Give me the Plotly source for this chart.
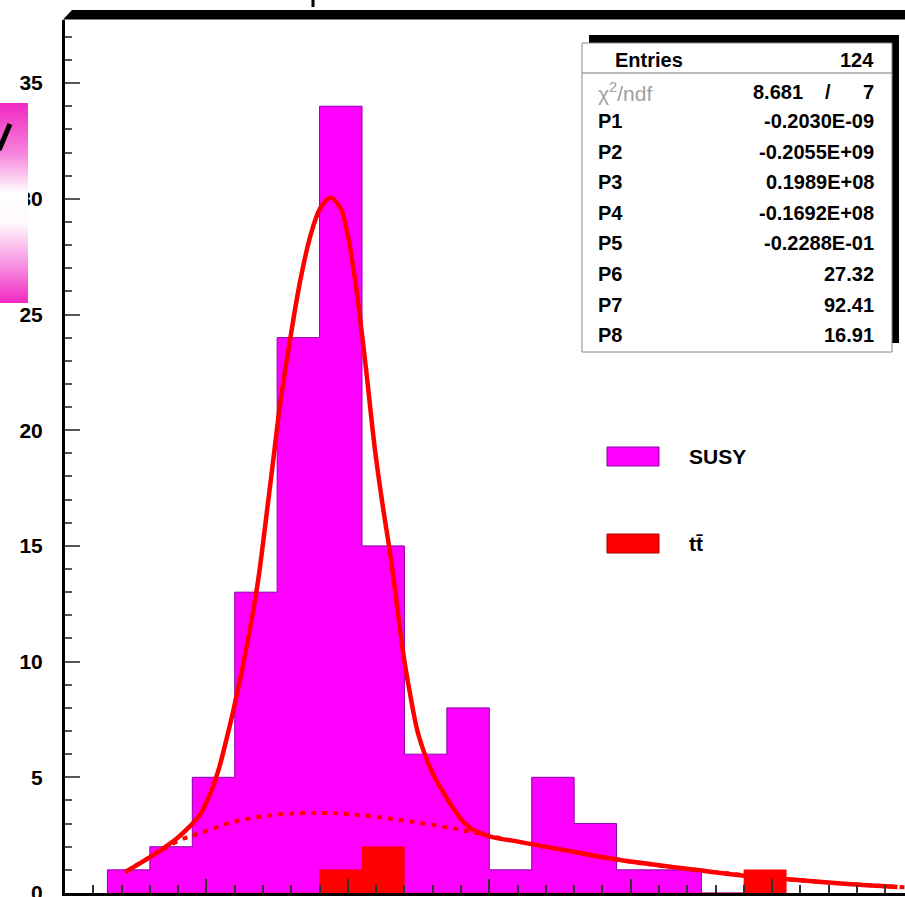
import base64
import plotly.graph_objects as go

# ---------------- data ----------------
bin_edges = [15, 30, 45, 60, 75, 90, 105, 120, 135, 150, 165, 180, 195, 210, 225, 240, 255]
susy_counts = [1, 2, 5, 13, 24, 34, 15, 6, 8, 1, 5, 3, 1, 1, 0, 0]
ttbar_counts = [0, 0, 0, 0, 0, 1, 2, 0, 0, 0, 0, 0, 0, 0, 0, 1]

fit_x = [21.35, 30.19, 35.0, 39.73, 44.33, 47.5, 50.34, 54.23, 57.0, 59.53, 63.5, 68.02,
         70.7, 73.32, 76.15, 79.69, 83.22, 86.76, 90.29, 93.83, 97.36, 99.84, 102.67,
         105.14, 106.91, 109.74, 112.5, 115.04, 117.5, 119.64, 122.0, 124.59, 127.5,
         130.25, 133.5, 137.31, 141.0, 144.38, 150.0, 161.0, 179.8, 193.88, 223.58,
         241.26, 258.94, 276.61, 294.29]
fit_y = [0.91, 1.56, 1.95, 2.38, 2.9, 3.35, 4.0, 5.3, 6.6, 7.9, 10.2, 13.3,
         15.8, 18.4, 21.2, 24.0, 26.5, 28.4, 29.6, 30.05, 29.6, 28.5, 26.4,
         24.0, 22.1, 19.0, 16.6, 14.6, 12.3, 10.3, 8.6, 7.0, 5.9,
         5.1, 4.4, 3.65, 3.05, 2.72, 2.45, 2.20, 1.78, 1.47, 0.99,
         0.73, 0.56, 0.39, 0.26]

bg_x = [21.35, 30.19, 40.80, 47.87, 59.53, 73.67, 86.76, 100.9, 118.58, 136.25,
        144.38, 161.0, 193.88, 223.58, 258.94, 294.29, 300.0]
bg_y = [0.91, 1.56, 2.29, 2.59, 3.07, 3.37, 3.46, 3.41, 3.15, 2.81,
        2.62, 2.20, 1.47, 0.99, 0.56, 0.26, 0.24]

stat_entries = "124"
stat_chi2 = "8.681"
stat_ndf = "7"
param_names = ["P1", "P2", "P3", "P4", "P5", "P6", "P7", "P8"]
param_values = ["-0.2030E-09", "-0.2055E+09", "0.1989E+08", "-0.1692E+08",
                "-0.2288E-01", "27.32", "92.41", "16.91"]
legend_labels = ["SUSY", "tt\u0304"]

# ---------------- geometry helpers (pixel -> paper) ----------------
FW, FH = 905, 897
L, T, R, B = 65, 20, 0, 4
PW, PH = FW - L - R, FH - T - B


def px(xp):
    return (xp - L) / PW


def py(yp):
    return (T + PH - yp) / PH


MAGENTA = "#FF00FF"
RED = "#FF0000"
FONT = "Liberation Sans, Arial, sans-serif"


def steps(edges, counts):
    xs = [edges[0]] + edges[:-1] + [edges[-1]]
    ys = [0] + list(counts) + [0]
    return xs, ys


fig = go.Figure()
sx, sy = steps(bin_edges, susy_counts)
fig.add_trace(go.Scatter(x=sx, y=sy, mode="lines", line_shape="hv", fill="tozeroy",
                         fillcolor=MAGENTA,
                         line=dict(color="rgb(140,0,170)", width=1),
                         showlegend=False, hoverinfo="skip"))
tx, ty = steps(bin_edges, ttbar_counts)
fig.add_trace(go.Scatter(x=tx, y=ty, mode="lines", line_shape="hv", fill="tozeroy",
                         fillcolor=RED, line=dict(color=RED, width=0.5),
                         showlegend=False, hoverinfo="skip"))
fig.add_trace(go.Scatter(x=bg_x, y=bg_y, mode="lines", line_shape="spline",
                         line=dict(color=RED, width=4, dash="5px,6px"),
                         showlegend=False, hoverinfo="skip"))
fig.add_trace(go.Scatter(x=fit_x, y=fit_y, mode="lines", line_shape="spline",
                         line=dict(color=RED, width=4.5),
                         showlegend=False, hoverinfo="skip"))

shapes = []
annotations = []

# top black frame bar with slanted corner
shapes.append(dict(type="path", xref="paper", yref="paper", layer="above",
                   path=f"M {px(63)},{py(19.5)} L {px(72)},{py(10)} L {px(906)},{py(10)} L {px(906)},{py(19.5)} Z",
                   fillcolor="black", line=dict(width=0)))

# stats box: shadow then box
shapes.append(dict(type="rect", xref="paper", yref="paper", layer="above",
                   x0=px(589), x1=px(899), y0=py(343), y1=py(35),
                   fillcolor="black", line=dict(width=0)))
shapes.append(dict(type="rect", xref="paper", yref="paper", layer="above",
                   x0=px(582), x1=px(892), y0=py(352), y1=py(43),
                   fillcolor="white", line=dict(color="#888", width=1)))
shapes.append(dict(type="line", xref="paper", yref="paper", layer="above",
                   x0=px(582), x1=px(892), y0=py(73), y1=py(73),
                   line=dict(color="#777", width=1)))

SF = dict(family=FONT, size=20, color="black")


def txt(x, y, s, anchor, font=SF):
    annotations.append(dict(xref="paper", yref="paper", x=px(x), y=py(y), text=s,
                            showarrow=False, xanchor=anchor, yanchor="middle",
                            font=font))


txt(613, 60, "<b>Entries</b>", "left")
txt(876, 60, f"<b>{stat_entries}</b>", "right")
txt(596, 92, "\u03c7<sup>2</sup>/ndf", "left", dict(family=FONT, size=21, color="#a0a0a0"))
txt(805, 92, f"<b>{stat_chi2}</b>", "right")
txt(828, 92, "<b>/</b>", "center")
txt(876, 92, f"<b>{stat_ndf}</b>", "right")
for i, (nm, val) in enumerate(zip(param_names, param_values)):
    yy = 121 + i * 30.6
    txt(596, yy, f"<b>{nm}</b>", "left")
    txt(876, yy, f"<b>{val}</b>", "right")

# legend
leg_colors = [(MAGENTA, "rgb(140,0,170)"), (RED, "rgb(170,0,0)")]
leg_y = [(447, 466), (534, 553)]
for (fc, lc), (y0, y1), lab in zip(leg_colors, leg_y, legend_labels):
    shapes.append(dict(type="rect", xref="paper", yref="paper", layer="above",
                       x0=px(607), x1=px(659), y0=py(y1), y1=py(y0),
                       fillcolor=fc, line=dict(color=lc, width=1)))
    txt(687, (y0 + y1) / 2, f"<b>{lab}</b>", "left", dict(family=FONT, size=21, color="black"))

# pink gradient box on the left (slide decoration) as an SVG image
svg = ("<svg xmlns='http://www.w3.org/2000/svg' width='30' height='200' "
       "preserveAspectRatio='none' viewBox='0 0 30 200'>"
       "<defs><linearGradient id='g' x1='0' y1='0' x2='0' y2='1'>"
       "<stop offset='0' stop-color='rgb(242,40,195)'/>"
       "<stop offset='0.25' stop-color='rgb(247,130,220)'/>"
       "<stop offset='0.45' stop-color='rgb(255,255,255)'/>"
       "<stop offset='0.6' stop-color='rgb(255,250,253)'/>"
       "<stop offset='0.82' stop-color='rgb(247,140,224)'/>"
       "<stop offset='1' stop-color='rgb(242,40,195)'/>"
       "</linearGradient></defs>"
       "<rect x='0' y='0' width='30' height='200' fill='url(#g)'/></svg>")
src = "data:image/svg+xml;base64," + base64.b64encode(svg.encode()).decode()
images = [dict(source=src, xref="paper", yref="paper", x=px(-2), y=py(103),
               sizex=px(28) - px(-2), sizey=py(103) - py(303),
               xanchor="left", yanchor="top", sizing="stretch", layer="above")]

# glyph fragment
shapes.append(dict(type="line", xref="paper", yref="paper", layer="above",
                   x0=px(10), y0=py(124), x1=px(-1), y1=py(150),
                   line=dict(color="black", width=5)))
# descender of cut title
shapes.append(dict(type="line", xref="paper", yref="paper", layer="above",
                   x0=px(313), y0=py(0), x1=px(313), y1=py(7),
                   line=dict(color="black", width=3)))

fig.update_layout(
    width=FW, height=FH,
    margin=dict(l=L, r=R, t=T, b=B, pad=0, autoexpand=False),
    paper_bgcolor="white", plot_bgcolor="white",
    showlegend=False,
    shapes=shapes, annotations=annotations, images=images,
    font=dict(family=FONT, color="black"),
)
fig.update_xaxes(range=[0, (FW - L) / 2.8286], showgrid=False, zeroline=False,
                 automargin=False,
                 showline=True, linecolor="black", linewidth=3,
                 ticks="inside", tick0=0, dtick=50, ticklen=14, tickwidth=1.5,
                 tickcolor="#333", showticklabels=False,
                 minor=dict(dtick=10, ticklen=8, tickwidth=1.5, tickcolor="#333",
                            ticks="inside"))
fig.update_yaxes(range=[0, PH / 23.14], showgrid=False, zeroline=False,
                 automargin=False,
                 showline=True, linecolor="black", linewidth=3,
                 ticks="inside", tick0=0, dtick=5, ticklen=15, tickwidth=2,
                 tickcolor="#555", ticklabelstandoff=15, ticklabeloverflow="allow",
                 tickfont=dict(family=FONT, size=21, color="black", weight="bold"),
                 minor=dict(dtick=1, ticklen=7, tickwidth=2, tickcolor="#555",
                            ticks="inside"))

fig.write_html("out.html")
